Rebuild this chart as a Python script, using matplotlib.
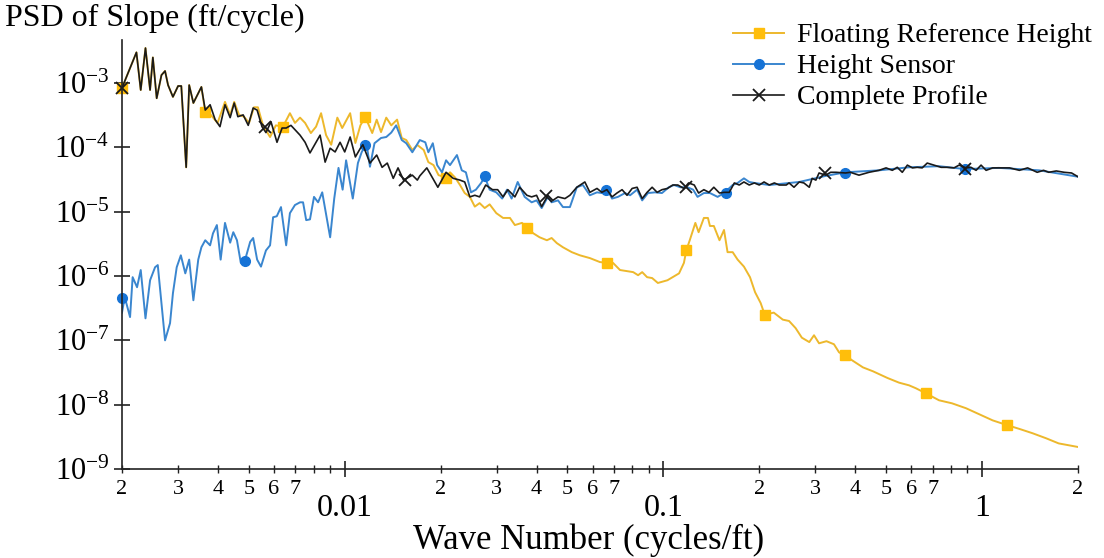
import numpy as np
import matplotlib
matplotlib.use("Agg")
import matplotlib.pyplot as plt
from matplotlib.lines import Line2D
from matplotlib.ticker import LogLocator, FuncFormatter, NullLocator

plt.rcParams["font.family"] = ["Liberation Serif", "DejaVu Serif"]
plt.rcParams["mathtext.fontset"] = "custom"
plt.rcParams["mathtext.rm"] = "Liberation Serif"
plt.rcParams["mathtext.it"] = "Liberation Serif:italic"
plt.rcParams["mathtext.bf"] = "Liberation Serif:bold"

# Complete profile (black)
cp_k = [0.00200, 0.00222, 0.00229, 0.00237, 0.00245, 0.00250, 0.00257, 0.00266, 0.00273, 0.00279,
        0.00289, 0.00300, 0.00307, 0.00318, 0.00325, 0.00335, 0.00355, 0.00365, 0.00378, 0.00392,
        0.00406, 0.00421, 0.00437, 0.00450, 0.00462, 0.00480, 0.00498, 0.00516, 0.00531, 0.00550,
        0.00566, 0.00587, 0.00613, 0.00636, 0.00655, 0.00678, 0.00724, 0.00751, 0.00778, 0.00813,
        0.00837, 0.00868, 0.00900, 0.00933, 0.00967, 0.0100, 0.0104, 0.0108, 0.0112, 0.0114,
        0.0120, 0.0126, 0.0131, 0.0136, 0.0142, 0.0147, 0.0153, 0.0163, 0.0169, 0.0172,
        0.0181, 0.0188, 0.0196, 0.0208, 0.0219, 0.0230, 0.0238, 0.0247, 0.0256, 0.0265,
        0.0277, 0.0291, 0.0302, 0.0314, 0.0325, 0.0342, 0.0354, 0.0373, 0.0386, 0.0400,
        0.0415, 0.0434, 0.0450, 0.0467, 0.0491, 0.0509, 0.0535, 0.0567, 0.0588, 0.0619,
        0.0641, 0.0665, 0.0690, 0.0715, 0.0742, 0.0769, 0.0798, 0.0827, 0.0858, 0.0889,
        0.0922, 0.0956, 0.0990, 0.103, 0.107, 0.111, 0.116, 0.120, 0.125, 0.129,
        0.134, 0.139, 0.144, 0.150, 0.155, 0.161, 0.167, 0.173, 0.179, 0.186,
        0.193, 0.200, 0.207, 0.215, 0.223, 0.231, 0.243, 0.248, 0.257, 0.267,
        0.276, 0.287, 0.293, 0.301, 0.308, 0.323, 0.335, 0.348, 0.373, 0.386,
        0.411, 0.442, 0.475, 0.500, 0.523, 0.542, 0.562, 0.583, 0.605, 0.626,
        0.649, 0.673, 0.707, 0.744, 0.777, 0.817, 0.847, 0.891, 0.923, 0.958,
        0.993, 1.03, 1.08, 1.13, 1.22, 1.31, 1.39, 1.49, 1.56, 1.62,
        1.71, 1.81, 1.91, 2.00]
cp_psd = [8.4e-4, 3.0e-3, 7.8e-4, 3.5e-3, 7.8e-4, 2.5e-3, 5.8e-4, 1.33e-3, 1.54e-3, 9.3e-4,
          6.1e-4, 9.0e-4, 9.0e-4, 4.9e-5, 9.3e-4, 4.9e-4, 8.7e-4, 3.8e-4, 4.6e-4, 2.7e-4,
          2.1e-4, 4.6e-4, 2.9e-4, 4.9e-4, 3.0e-4, 3.2e-4, 2.2e-4, 4.1e-4, 3.8e-4, 2.1e-4,
          1.7e-4, 2.5e-4, 1.2e-4, 2.0e-4, 2.0e-4, 2.2e-4, 1.55e-4, 1.2e-4, 8.2e-5, 1.2e-4,
          1.55e-4, 5.9e-5, 9.7e-5, 8.5e-5, 1.2e-4, 8.5e-5, 1.45e-4, 7.1e-5, 9.7e-5, 1.1e-4,
          5.7e-5, 7.6e-5, 4.9e-5, 5.7e-5, 3.3e-5, 4.8e-5, 3.1e-5, 3.7e-5, 3.1e-5, 3.6e-5,
          4.8e-5, 3.45e-5, 2.4e-5, 4.1e-5, 3.3e-5, 3.1e-5, 2.9e-5, 1.7e-5, 1.8e-5, 1.7e-5,
          2.6e-5, 2.2e-5, 2.2e-5, 1.7e-5, 2.2e-5, 1.7e-5, 2.4e-5, 1.8e-5, 1.7e-5, 1.8e-5,
          1.2e-5, 1.8e-5, 1.5e-5, 1.7e-5, 1.6e-5, 1.8e-5, 2.4e-5, 2.9e-5, 2.0e-5, 2.3e-5,
          2.0e-5, 2.2e-5, 1.7e-5, 1.95e-5, 2.2e-5, 1.8e-5, 2.3e-5, 2.4e-5, 1.6e-5, 2.0e-5,
          2.4e-5, 2.0e-5, 2.2e-5, 2.3e-5, 2.6e-5, 2.6e-5, 2.3e-5, 2.8e-5, 2.6e-5, 1.95e-5,
          2.2e-5, 2.0e-5, 2.4e-5, 1.95e-5, 2.0e-5, 2.0e-5, 2.8e-5, 2.6e-5, 2.9e-5, 2.6e-5,
          2.8e-5, 2.6e-5, 2.9e-5, 2.6e-5, 2.8e-5, 2.6e-5, 2.6e-5, 2.8e-5, 2.4e-5, 2.9e-5,
          2.8e-5, 2.4e-5, 3.3e-5, 3.1e-5, 4.0e-5, 3.7e-5, 4.1e-5, 4.1e-5, 4.0e-5, 4.1e-5,
          3.7e-5, 4.1e-5, 4.4e-5, 4.8e-5, 4.4e-5, 4.9e-5, 4.1e-5, 5.3e-5, 4.8e-5, 4.9e-5,
          4.8e-5, 5.7e-5, 5.3e-5, 4.9e-5, 4.9e-5, 4.8e-5, 5.3e-5, 4.8e-5, 4.9e-5, 4.4e-5,
          5.3e-5, 4.4e-5, 4.8e-5, 4.8e-5, 4.8e-5, 4.4e-5, 4.8e-5, 4.1e-5, 4.4e-5, 4.1e-5,
          4.3e-5, 4.1e-5, 4.0e-5, 3.5e-5]

# Height sensor (blue)
hs_k = [0.00200, 0.00204, 0.00212, 0.00216, 0.00223, 0.00229, 0.00237, 0.00245, 0.00254, 0.00259,
        0.00273, 0.00283, 0.00289, 0.00297, 0.00306, 0.00316, 0.00325, 0.00335, 0.00347, 0.00355,
        0.00365, 0.00378, 0.00386, 0.00397, 0.00408, 0.00421, 0.00437, 0.00447, 0.00459, 0.00472,
        0.00487, 0.00505, 0.00516, 0.00531, 0.00546, 0.00566, 0.00583, 0.00596, 0.00612, 0.00631,
        0.00655, 0.00673, 0.00698, 0.00724, 0.00740, 0.00757, 0.00778, 0.00801, 0.00825, 0.00850,
        0.00900, 0.00927, 0.00956, 0.00985, 0.0101, 0.0106, 0.0110, 0.0113, 0.0117, 0.0120,
        0.0124, 0.0130, 0.0135, 0.0140, 0.0145, 0.0151, 0.0156, 0.0163, 0.0166, 0.0172,
        0.0179, 0.0183, 0.0189, 0.0195, 0.0202, 0.0208, 0.0214, 0.0225, 0.0233, 0.0240,
        0.0249, 0.0258, 0.0268, 0.0275, 0.0285, 0.0299, 0.0312, 0.0323, 0.0334, 0.0349,
        0.0367, 0.0386, 0.0400, 0.0415, 0.0434, 0.0446, 0.0467, 0.0484, 0.0509, 0.0535,
        0.0559, 0.0588, 0.0619, 0.0641, 0.0665, 0.0690, 0.0720, 0.0758, 0.0786, 0.0827,
        0.0858, 0.0895, 0.0941, 0.0990, 0.104, 0.108, 0.113, 0.119, 0.124, 0.128,
        0.134, 0.140, 0.148, 0.155, 0.165, 0.171, 0.179, 0.186, 0.193, 0.215,
        0.267, 0.323, 0.373, 0.475, 0.590, 0.733, 0.885, 1.13, 1.51, 2.00]
hs_psd = [2.7e-7, 4.7e-7, 2.3e-7, 9.6e-7, 6.7e-7, 1.24e-6, 2.2e-7, 8.6e-7, 1.37e-6, 1.48e-6,
          1.0e-7, 1.85e-7, 5.4e-7, 1.37e-6, 2.1e-6, 1.1e-6, 1.8e-6, 4.2e-7, 1.8e-6, 2.8e-6,
          3.6e-6, 3.0e-6, 4.6e-6, 6.2e-6, 1.8e-6, 6.7e-6, 3.3e-6, 4.8e-6, 3.6e-6, 1.6e-6,
          1.8e-6, 3.4e-6, 3.9e-6, 1.8e-6, 1.4e-6, 2.5e-6, 3.0e-6, 8.2e-6, 8.5e-6, 1.18e-5,
          3.0e-6, 9.5e-6, 1.27e-5, 1.4e-5, 1.4e-5, 7.4e-6, 7.6e-6, 1.7e-5, 1.4e-5, 2.0e-5,
          4.0e-6, 1.6e-5, 4.8e-5, 2.2e-5, 6.3e-5, 1.6e-5, 5.7e-5, 8.4e-5, 1.16e-4, 5.0e-5,
          1.16e-4, 1.4e-4, 1.45e-4, 1.7e-4, 2.2e-4, 1.3e-4, 1.16e-4, 8.4e-5, 9.75e-5, 1.3e-4,
          1.2e-4, 8.4e-5, 1.16e-4, 5.3e-5, 4.1e-5, 6.3e-5, 5.3e-5, 7.6e-5, 4.4e-5, 4.1e-5,
          2.0e-5, 2.2e-5, 2.8e-5, 3.5e-5, 2.2e-5, 2.0e-5, 1.6e-5, 2.2e-5, 1.6e-5, 2.9e-5,
          1.7e-5, 1.4e-5, 1.5e-5, 1.14e-5, 1.7e-5, 1.4e-5, 1.5e-5, 1.18e-5, 1.18e-5, 2.4e-5,
          2.6e-5, 1.8e-5, 2.0e-5, 1.95e-5, 2.3e-5, 1.6e-5, 1.7e-5, 1.95e-5, 1.8e-5, 2.2e-5,
          1.5e-5, 1.95e-5, 2.0e-5, 1.95e-5, 2.4e-5, 2.6e-5, 2.4e-5, 2.4e-5, 2.2e-5, 1.7e-5,
          1.95e-5, 1.95e-5, 1.7e-5, 1.95e-5, 2.6e-5, 2.8e-5, 3.3e-5, 2.9e-5, 2.8e-5, 2.6e-5,
          2.9e-5, 3.6e-5, 4.1e-5, 4.4e-5, 4.9e-5, 5.1e-5, 4.6e-5, 4.8e-5, 4.4e-5, 3.5e-5]

# Floating reference height (yellow)
fr_k = [0.00200, 0.00222, 0.00229, 0.00237, 0.00245, 0.00250, 0.00257, 0.00266, 0.00273, 0.00279,
        0.00289, 0.00300, 0.00307, 0.00318, 0.00325, 0.00335, 0.00355, 0.00365, 0.00380, 0.00399,
        0.00421, 0.00437, 0.00450, 0.00466, 0.00483, 0.00501, 0.00519, 0.00534, 0.00554, 0.00583,
        0.00608, 0.00640, 0.00673, 0.00698, 0.00724, 0.00751, 0.00783, 0.00813, 0.00843, 0.00874,
        0.00907, 0.00948, 0.00982, 0.0104, 0.0108, 0.0112, 0.0116, 0.0122, 0.0126, 0.0130,
        0.0135, 0.0140, 0.0146, 0.0151, 0.0156, 0.0163, 0.0169, 0.0177, 0.0183, 0.0190,
        0.0197, 0.0208, 0.0214, 0.0222, 0.0230, 0.0238, 0.0247, 0.0256, 0.0265, 0.0275,
        0.0285, 0.0299, 0.0314, 0.0330, 0.0342, 0.0360, 0.0373, 0.0391, 0.0409, 0.0431,
        0.0446, 0.0463, 0.0484, 0.0516, 0.0547, 0.0588, 0.0632, 0.0665, 0.0695, 0.0731,
        0.0804, 0.0833, 0.0858, 0.0889, 0.0922, 0.0961, 0.103, 0.112, 0.116, 0.118,
        0.121, 0.126, 0.129, 0.134, 0.138, 0.140, 0.144, 0.150, 0.155, 0.159,
        0.165, 0.171, 0.179, 0.187, 0.194, 0.202, 0.208, 0.222, 0.237, 0.248,
        0.260, 0.272, 0.287, 0.297, 0.308, 0.325, 0.343, 0.356, 0.371, 0.391,
        0.423, 0.455, 0.505, 0.549, 0.590, 0.620, 0.667, 0.733, 0.805, 0.891,
        0.979, 1.08, 1.20, 1.31, 1.44, 1.59, 1.74, 1.91, 2.00]
fr_psd = [8.4e-4, 3.0e-3, 7.8e-4, 3.5e-3, 7.8e-4, 2.5e-3, 5.8e-4, 1.33e-3, 1.54e-3, 9.3e-4,
          6.1e-4, 9.0e-4, 9.0e-4, 4.9e-5, 9.3e-4, 4.9e-4, 8.7e-4, 3.5e-4, 3.2e-4, 2.4e-4,
          5.1e-4, 3.2e-4, 5.1e-4, 3.2e-4, 3.0e-4, 2.4e-4, 4.2e-4, 4.2e-4, 2.2e-4, 1.45e-4,
          2.2e-4, 2.1e-4, 3.4e-4, 2.4e-4, 2.9e-4, 2.4e-4, 1.67e-4, 2.1e-4, 3.4e-4, 1.55e-4,
          1.1e-4, 2.9e-4, 2.0e-4, 3.4e-4, 1.17e-4, 2.2e-4, 2.96e-4, 1.67e-4, 2.7e-4, 1.73e-4,
          2.9e-4, 2.2e-4, 2.7e-4, 1.4e-4, 1.3e-4, 9.1e-5, 1.09e-4, 9.1e-5, 5.9e-5, 5.3e-5,
          3.7e-5, 3.4e-5, 4.1e-5, 3.4e-5, 2.6e-5, 1.95e-5, 1.7e-5, 1.2e-5, 1.36e-5, 1.14e-5,
          1.3e-5, 9.5e-6, 8.0e-6, 8.0e-6, 6.2e-6, 6.7e-6, 5.6e-6, 4.6e-6, 4.0e-6, 3.6e-6,
          3.9e-6, 3.25e-6, 2.8e-6, 2.35e-6, 2.1e-6, 1.9e-6, 1.65e-6, 1.6e-6, 1.6e-6, 1.24e-6,
          1.15e-6, 1.03e-6, 1.15e-6, 9.6e-7, 9.3e-7, 7.8e-7, 8.6e-7, 1.1e-6, 1.6e-6, 2.5e-6,
          3.6e-6, 6.7e-6, 4.8e-6, 8.0e-6, 8.0e-6, 6.0e-6, 6.0e-6, 3.6e-6, 5.2e-6, 2.35e-6,
          2.35e-6, 1.8e-6, 1.4e-6, 9.6e-7, 5.6e-7, 3.8e-7, 2.5e-7, 2.7e-7, 2.1e-7, 2.0e-7,
          1.55e-7, 1.1e-7, 9.4e-8, 1.2e-7, 9.0e-8, 9.7e-8, 8.7e-8, 6.5e-8, 5.9e-8, 4.9e-8,
          3.8e-8, 3.3e-8, 2.6e-8, 2.2e-8, 2.0e-8, 1.8e-8, 1.5e-8, 1.17e-8, 1.05e-8, 8.8e-9,
          7.1e-9, 5.7e-9, 4.8e-9, 4.2e-9, 3.6e-9, 3.0e-9, 2.5e-9, 2.3e-9, 2.2e-9]

# marker positions
fr_mk_k = [0.002, 0.00365, 0.0064, 0.0116, 0.0208, 0.0373, 0.0665, 0.118, 0.208, 0.371, 0.667, 1.20]
fr_mk_psd = [8.4e-4, 3.5e-4, 2.1e-4, 3.0e-4, 3.4e-5, 5.6e-6, 1.6e-6, 2.5e-6, 2.5e-7, 5.9e-8, 1.5e-8, 4.8e-9]
hs_mk_k = [0.002, 0.00487, 0.0116, 0.0275, 0.0660, 0.157, 0.371, 0.885]
hs_mk_psd = [4.5e-7, 1.7e-6, 1.08e-4, 3.6e-5, 2.2e-5, 1.95e-5, 4.0e-5, 4.6e-5]
cp_mk_k = [0.002, 0.00562, 0.0155, 0.0428, 0.118, 0.321, 0.885]
cp_mk_psd = [8.4e-4, 2.1e-4, 3.1e-5, 1.75e-5, 2.4e-5, 4.0e-5, 4.6e-5]

labels = ["Floating Reference Height", "Height Sensor", "Complete Profile"]

fr_line, fr_mark = "#EDB82C", "#FFBE0B"
hs_line, hs_mark = "#3A86CF", "#1673D6"
cp_line = "#1A1A1A"

fig = plt.figure(figsize=(11.04, 5.58), dpi=100)
ax = fig.add_axes([0.1105, 0.1595, 0.8659, 0.7688])

ax.plot(fr_k, fr_psd, color=fr_line, lw=1.4)
ax.plot(fr_mk_k, fr_mk_psd, ls="none", marker="s", ms=7, color=fr_mark, clip_on=False)
ax.plot(hs_k, hs_psd, color=hs_line, lw=1.4)
ax.plot(hs_mk_k, hs_mk_psd, ls="none", marker="o", ms=7, color=hs_mark, clip_on=False)
ax.plot(cp_k, cp_psd, color=cp_line, lw=1.2)
ax.plot(cp_mk_k, cp_mk_psd, ls="none", marker="x", ms=8, mew=1.3, color=cp_line, clip_on=False)

ax.set_xscale("log")
ax.set_yscale("log")
ax.set_xlim(0.002, 2)
ax.set_ylim(1e-9, 4.67e-3)

for side in ["top", "right"]:
    ax.spines[side].set_visible(False)
for side in ["left", "bottom"]:
    ax.spines[side].set_linewidth(1.2)
    ax.spines[side].set_color("#222222")

ax.yaxis.set_major_locator(LogLocator(base=10, numticks=20))
ax.yaxis.set_minor_locator(NullLocator())
ax.tick_params(axis="y", which="major", direction="inout", length=12, width=1.2,
               labelsize=22, pad=3, color="#222222")

ax.xaxis.set_major_locator(LogLocator(base=10, numticks=20))
ax.xaxis.set_minor_locator(LogLocator(base=10, subs=[2, 3, 4, 5, 6, 7, 8, 9], numticks=20))


def minor_fmt(x, pos):
    m = x / 10 ** np.floor(np.log10(x) + 1e-9)
    d = int(round(m))
    if 2 <= d <= 7 and abs(m - d) < 0.01:
        return str(d)
    return ""


ax.xaxis.set_major_formatter(FuncFormatter(lambda x, pos: f"{x:g}"))
ax.xaxis.set_minor_formatter(FuncFormatter(minor_fmt))
ax.tick_params(axis="x", which="major", direction="inout", length=12, width=1.2,
               labelsize=23, pad=12, color="#222222")
ax.tick_params(axis="x", which="minor", direction="inout", length=6, width=1.0,
               labelsize=16, pad=5, color="#222222")

fig.text(5 / 1104, 1 - 4 / 558, "PSD of Slope (ft/cycle)", fontsize=23, ha="left", va="top")
fig.text(589 / 1104, 1 - 540 / 558, "Wave Number (cycles/ft)", fontsize=25, ha="center", va="center")

handles = [
    Line2D([], [], color=fr_line, lw=1.4, marker="s", ms=7, mfc=fr_mark, mec=fr_mark),
    Line2D([], [], color=hs_line, lw=1.4, marker="o", ms=7, mfc=hs_mark, mec=hs_mark),
    Line2D([], [], color=cp_line, lw=1.2, marker="x", ms=8, mew=1.3),
]
fig.legend(handles, labels, loc="upper left", bbox_to_anchor=(733 / 1104, 1 - 23 / 558),
           frameon=False, fontsize=20, handlelength=1.85, handletextpad=0.45,
           labelspacing=0.2, borderpad=0, borderaxespad=0)

fig.savefig("out.png", dpi=100)
